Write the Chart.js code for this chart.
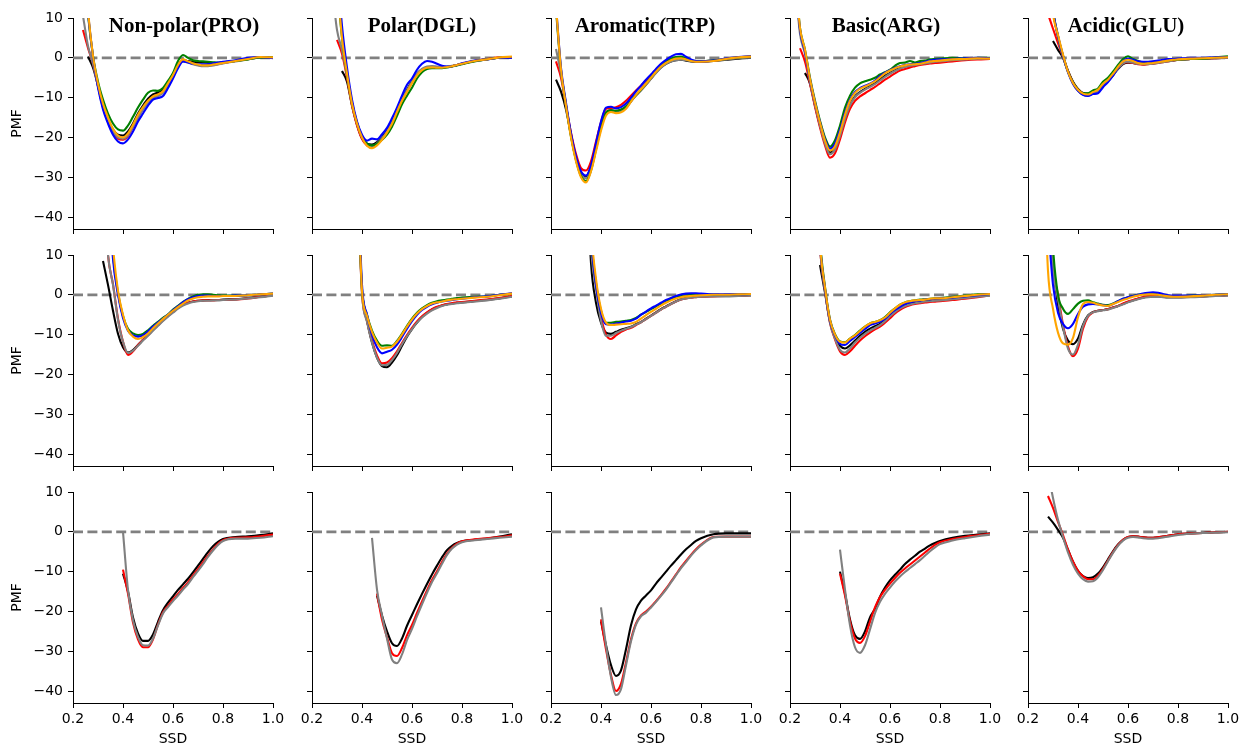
<!DOCTYPE html>
<html>
<head>
<meta charset="utf-8">
<script src="https://cdn.jsdelivr.net/npm/chart.js@4.4.0/dist/chart.umd.min.js"></script>
<style>
  html, body { margin: 0; padding: 0; background: #fff; overflow: hidden; }
  #fig { position: relative; width: 1242px; height: 746px; }
  .panel { position: absolute; }
  .title {
    position: absolute; top: 15px; transform: translateX(-50%);
    font-family: "Liberation Serif", serif; font-weight: bold;
    font-size: 21px; line-height: 21px; white-space: nowrap; color: #000;
  }
</style>
</head>
<body>
<div id="fig"></div>
<script>
// SSD grid shared by every curve
const ssd = [
  0.22, 0.24, 0.26, 0.28, 0.30, 0.32, 0.34, 0.36, 0.38, 0.40,
  0.42, 0.44, 0.46, 0.48, 0.50, 0.52, 0.54, 0.56, 0.58, 0.60,
  0.62, 0.64, 0.66, 0.68, 0.70, 0.72, 0.74, 0.76, 0.78, 0.80,
  0.85, 0.90, 0.95, 1.00
];
const xTicks = [0.2, 0.4, 0.6, 0.8, 1.0];
const yTicks = [-40, -30, -20, -10, 0, 10];
const residues = ["Non-polar(PRO)", "Polar(DGL)", "Aromatic(TRP)", "Basic(ARG)", "Acidic(GLU)"];

// PMF curves. runs in each panel: black, red, gray, green, blue, orange (bottom row: black, red, gray)
const topPRO = [
  [null, null, 0.3, -2.5, -7, -12, -15.5, -18, -19.3, -19.5,
   -18.5, -16.5, -14, -12, -10.3, -9.2, -8.7, -8, -6.2, -4.2,
   -1.8, -0.6, -0.8, -1.0, -1.1, -1.1, -1.2, -1.3, -1.3, -1.2,
   -0.8, -0.3, 0.1, 0.1],
  [null, 7, 2.5, -1.5, -7, -12.5, -16, -18.8, -20.3, -20.6,
   -19.6, -17.4, -15, -12.8, -11, -9.8, -9.3, -8.6, -6.6, -4.4,
   -1.9, -0.5, -1.0, -1.5, -1.8, -2.0, -2.0, -1.8, -1.6, -1.3,
   -0.8, -0.3, 0.2, 0.1],
  [null, 10.5, 3, -1.5, -7.2, -12.3, -15.8, -18.5, -20, -20.3,
   -19.4, -17.3, -15, -13, -11.3, -10.2, -9.6, -8.8, -6.8, -4.6,
   -2.1, -0.9, -1.2, -1.6, -1.9, -2.1, -2.1, -1.9, -1.7, -1.4,
   -0.9, -0.4, 0.1, 0.1],
  [null, 28, 11, 0.5, -6, -10.5, -14, -16.5, -18, -18.3,
   -17, -14.8, -12.5, -10.5, -8.8, -8.2, -8.3, -7.6, -5.8, -3.8,
   -0.8, 0.7, 0, -0.6, -0.8, -0.9, -1.0, -1.1, -1.2, -1.1,
   -0.8, -0.4, 0.1, 0.1],
  [null, 28, 11.5, 0.3, -7.5, -13, -16.5, -19.3, -21, -21.5,
   -20.5, -18.5, -16, -14, -12, -10.5, -10.1, -9.6, -7.6, -5.2,
   -2.6, -0.9, -1.2, -1.5, -1.6, -1.6, -1.6, -1.4, -1.2, -1.0,
   -0.6, 0, 0.2, -0.1],
  [null, 30, 12, 0.5, -6.5, -11.5, -15, -17.8, -19.5, -20,
   -19, -16.8, -14.3, -12.4, -10.8, -9.7, -9.2, -8.4, -6.4, -4.3,
   -1.8, -0.4, -0.9, -1.4, -1.7, -1.9, -1.9, -1.7, -1.5, -1.3,
   -0.8, -0.3, 0.2, 0.1]
];
const topDGL = [
  [null, null, null, null, null, -3.3, -6, -12, -16.8, -20.2,
   -21.6, -21.8, -21.2, -20, -18.3, -16, -13, -10.3, -8, -5.9,
   -4, -2.9, -2.4, -2.3, -2.4, -2.4, -2.3, -2.1, -1.8, -1.5,
   -0.8, -0.4, 0, 0.1],
  [null, null, null, null, 4.5, 1, -5, -12, -17, -20.4,
   -22, -22.4, -21.8, -20.5, -18.7, -16.4, -13.4, -10.6, -8.4, -6.2,
   -4.2, -3, -2.4, -2.3, -2.4, -2.4, -2.3, -2.1, -1.8, -1.5,
   -0.8, -0.3, 0.1, 0.1],
  [null, null, null, 18, 7, 2, -4.5, -11.5, -16.5, -20,
   -21.8, -22.2, -21.5, -20.2, -18.5, -16.2, -13.2, -10.4, -8.2, -6,
   -4, -2.8, -2.2, -2.1, -2.2, -2.3, -2.2, -2.0, -1.8, -1.5,
   -0.8, -0.4, 0, 0.1],
  [null, null, null, null, 19, 5, -4, -11.3, -16.3, -19.7,
   -21.5, -22, -21.6, -20.6, -19.3, -17.3, -14.6, -11.7, -9.5, -7.5,
   -5.2, -3.6, -2.8, -2.6, -2.6, -2.6, -2.4, -2.2, -1.9, -1.6,
   -0.9, -0.4, 0, 0.2],
  [null, null, null, null, 24, 8, -2.5, -10.5, -16, -19.3,
   -20.8, -20.3, -20.5, -19.2, -17.6, -15.2, -12.5, -9.5, -6.8, -5.2,
   -3, -1.5, -0.8, -1.0, -1.5, -2.0, -2.2, -2.1, -1.8, -1.4,
   -0.7, -0.4, 0, 0],
  [null, null, null, null, 20, 5, -4, -11.5, -16.5, -20,
   -22.1, -22.7, -22, -20.6, -18.8, -16.6, -13.6, -10.8, -8.6, -6.4,
   -4.4, -3.1, -2.5, -2.4, -2.5, -2.5, -2.3, -2.1, -1.8, -1.5,
   -0.8, -0.4, 0.1, 0.3]
];
const topTRP = [
  [-5.5, -8.5, -13, -19.3, -25, -28.8, -29.8, -27.3, -22.3, -17,
   -13.7, -13.2, -13.4, -13.2, -12.4, -10.9, -9.4, -8.1, -6.7, -5.2,
   -3.7, -2.4, -1.5, -0.9, -0.6, -0.5, -0.7, -0.9, -1.0, -1.0,
   -0.8, -0.5, -0.2, 0],
  [-0.9, -5, -12, -18.8, -24.2, -27.7, -28.3, -26, -21, -16.2,
   -12.8, -12.6, -12.4, -11.8, -10.8, -9.5, -8.2, -7, -5.7, -4.4,
   -3, -1.8, -0.9, -0.4, -0.1, 0, -0.3, -0.7, -0.9, -0.9,
   -0.7, -0.3, 0.1, 0.3],
  [2.2, -4, -12, -19.6, -25.5, -29.2, -30.3, -27.8, -22.8, -17.5,
   -14, -13.4, -13.6, -13.4, -12.6, -11, -9.5, -8.2, -6.8, -5.3,
   -3.8, -2.5, -1.5, -0.9, -0.6, -0.5, -0.6, -0.8, -0.9, -0.9,
   -0.7, -0.4, -0.1, 0.1],
  [12, -3, -11.8, -19.8, -25.7, -29.7, -31, -28.3, -23, -17.5,
   -13.8, -13.2, -13.3, -13, -12.2, -10.8, -9.3, -8, -6.5, -4.9,
   -3.3, -1.8, -0.8, -0.2, 0.2, 0.3, -0.2, -0.6, -0.8, -0.8,
   -0.6, -0.3, 0.1, 0.3],
  [13, -2.5, -11.3, -19, -24.8, -28.5, -29.6, -27, -21.5, -16,
   -12.5, -12.3, -12.7, -12.4, -11.5, -10, -8.4, -7, -5.5, -4.2,
   -2.8, -1.5, -0.5, 0.3, 0.9, 1.0, 0.3, -0.4, -0.8, -0.9,
   -0.7, -0.2, 0.2, 0.4],
  [13, -3, -12, -20, -26, -30, -31.3, -28.5, -23.5, -18.3,
   -14.5, -13.6, -13.9, -13.7, -12.8, -11, -9.3, -7.9, -6.5, -5,
   -3.5, -2.2, -1.3, -0.6, -0.2, -0.1, -0.4, -0.8, -1.0, -1.0,
   -0.8, -0.3, 0.1, 0.3]
];
const topARG = [
  [null, null, -3.8, -6.5, -12, -17, -21.3, -23.8, -22.6, -19.2,
   -15, -11.7, -9.7, -8.6, -7.8, -7.1, -6.3, -5.4, -4.5, -3.8,
   -3.1, -2.6, -2.2, -1.9, -1.7, -1.5, -1.3, -1.1, -0.9, -0.8,
   -0.5, -0.3, -0.2, -0.1],
  [null, 2.4, -1, -6.5, -12.3, -17.5, -22, -25.1, -24, -20.5,
   -16.2, -12.8, -10.8, -9.7, -8.9, -8.1, -7.3, -6.4, -5.5, -4.7,
   -3.9, -3.2, -2.8, -2.4, -2.1, -1.8, -1.6, -1.4, -1.3, -1.2,
   -0.9, -0.6, -0.4, -0.3],
  [20, 6, 1, -6, -11.8, -17, -21.5, -24.2, -23, -19.6,
   -15.3, -11.9, -9.9, -8.8, -8, -7.3, -6.6, -5.7, -4.8, -4,
   -3.3, -2.7, -2.3, -2, -1.8, -1.6, -1.4, -1.2, -1.0, -0.9,
   -0.6, -0.4, -0.2, -0.1],
  [22, 7.5, 2, -5, -10.8, -15.8, -20, -22.3, -20.7, -17,
   -12.5, -9.5, -7.5, -6.4, -5.9, -5.5, -5, -4.2, -3.6, -3,
   -2, -1.3, -1.2, -0.8, -1.2, -0.8, -0.7, -0.4, -0.3, -0.2,
   0, -0.1, 0, 0],
  [21, 7, 1.5, -5.5, -11.2, -16.2, -20.5, -22.8, -21.5, -18,
   -13.8, -10.5, -8.6, -7.6, -7, -6.5, -5.7, -4.6, -3.7, -3.1,
   -2.5, -2.1, -1.8, -1.6, -1.5, -1.3, -1.0, -0.7, -0.5, -0.4,
   -0.3, -0.1, 0, -0.1],
  [22, 7.5, 2, -5.3, -11.2, -16.3, -20.8, -23.3, -22.2, -18.7,
   -14.3, -10.8, -8.8, -7.8, -7.2, -6.6, -5.9, -4.9, -3.9, -3.2,
   -2.6, -2.2, -1.9, -1.7, -1.6, -1.5, -1.2, -0.9, -0.8, -0.7,
   -0.4, -0.3, -0.1, -0.2]
];
const topGLU = [
  [null, null, null, null, 4.2, 2, 0, -3.3, -6, -7.8,
   -8.8, -9, -8.6, -8.1, -6.8, -5.8, -4.4, -2.8, -1.6, -1.2,
   -1.3, -1.5, -1.6, -1.5, -1.4, -1.2, -1.0, -0.8, -0.7, -0.5,
   -0.3, -0.2, -0.1, 0],
  [null, null, null, 11, 7.3, 3.7, 0.3, -3.3, -6.2, -8,
   -9, -9.2, -8.6, -8.1, -6.6, -5.6, -4.2, -2.6, -1.4, -1.1,
   -1.3, -1.6, -1.7, -1.6, -1.5, -1.3, -1.1, -0.9, -0.7, -0.5,
   -0.3, -0.2, -0.1, 0],
  [null, null, null, 25, 12, 5, 0.3, -3.6, -6.5, -8.3,
   -9.3, -9.5, -9, -8.4, -6.9, -5.8, -4.4, -2.7, -1.4, -1.0,
   -1.2, -1.5, -1.6, -1.6, -1.5, -1.3, -1.1, -0.9, -0.7, -0.5,
   -0.3, -0.2, -0.1, 0],
  [null, null, null, 25, 12, 5.5, 0.6, -3.4, -6.2, -8,
   -8.9, -8.9, -8.2, -7.7, -6, -5, -3.5, -1.8, -0.3, 0.4,
   -0.3, -0.8, -1.1, -1.1, -1.0, -0.9, -0.8, -0.6, -0.5, -0.4,
   -0.3, -0.2, 0.1, 0.4],
  [null, null, null, 25, 12, 5.5, 0.5, -3.6, -6.5, -8.3,
   -9.3, -9.6, -9.1, -8.9, -7.4, -6.1, -4.5, -2.5, -0.8, -0.2,
   -0.5, -0.9, -1.0, -1.0, -0.9, -0.7, -0.5, -0.3, -0.3, -0.2,
   0, 0, 0.1, 0.1],
  [null, null, null, 24, 11, 5.7, 0.8, -3.5, -6.3, -8,
   -9, -9.2, -8.6, -8, -6.5, -5.5, -4, -2.3, -0.9, -0.5,
   -0.8, -1.3, -1.5, -1.4, -1.3, -1.1, -0.9, -0.7, -0.5, -0.4,
   -0.2, -0.1, 0, 0.1]
];

const midPRO = [
  [null, null, null, null, null, 8.5, 2.5, -4, -9.8, -13.2,
   -14.5, -13.9, -12.6, -11.3, -10.1, -8.8, -7.6, -6.4, -5.3, -4.3,
   -3.3, -2.5, -2.0, -1.7, -1.5, -1.4, -1.3, -1.3, -1.3, -1.2,
   -1.1, -0.8, -0.5, -0.1],
  [null, null, null, null, null, 30, 10, 2.7, -6, -11.8,
   -15.1, -14.2, -12.6, -11.3, -10.1, -8.8, -7.6, -6.4, -5.3, -4.3,
   -3.3, -2.5, -2.0, -1.7, -1.5, -1.4, -1.4, -1.4, -1.3, -1.3,
   -1.2, -0.9, -0.5, -0.1],
  [null, null, null, null, null, 30, 10, 2.5, -6.3, -11.8,
   -14.6, -14.0, -12.8, -11.5, -10.3, -9.0, -7.8, -6.6, -5.5, -4.5,
   -3.5, -2.7, -2.2, -1.8, -1.6, -1.5, -1.5, -1.4, -1.4, -1.3,
   -1.2, -0.9, -0.6, -0.2],
  [null, null, null, null, null, null, 30, 10, 0.5, -5.3,
   -8.5, -9.7, -10.1, -9.8, -8.9, -7.8, -6.8, -5.8, -4.9, -3.7,
   -2.8, -1.8, -1.0, -0.4, 0.0, 0.1, 0.1, 0.0, -0.1, -0.2,
   -0.2, -0.1, 0.1, 0.3],
  [null, null, null, null, null, null, 30, 9, 0, -5.8,
   -9, -10.2, -10.5, -10.2, -9.2, -8.0, -7.0, -6.0, -5.0, -3.9,
   -2.9, -1.9, -1.1, -0.6, -0.3, -0.2, -0.2, -0.3, -0.3, -0.3,
   -0.2, -0.1, 0.1, 0.3],
  [null, null, null, null, null, null, 30, 12, 1, -5,
   -8.9, -10.5, -11.1, -10.6, -9.7, -8.4, -7.2, -6.1, -5.0, -4.0,
   -3.1, -2.2, -1.4, -0.9, -0.6, -0.5, -0.4, -0.4, -0.4, -0.3,
   -0.3, -0.1, 0.1, 0.3]
];
const midDGL = [
  [null, null, null, null, null, null, null, null, null, 0,
   -6.5, -12, -15.8, -17.9, -18.2, -17.0, -15.2, -12.8, -10.5, -8.6,
   -7.0, -5.6, -4.5, -3.7, -3.1, -2.7, -2.4, -2.2, -2.0, -1.9,
   -1.6, -1.3, -0.9, -0.4],
  [null, null, null, null, null, null, null, null, 33, 0.5,
   -6.5, -11.5, -15.2, -17.2, -17, -15.9, -14.2, -12.1, -10.1, -8.3,
   -6.7, -5.4, -4.4, -3.6, -3.0, -2.6, -2.3, -2.1, -1.9, -1.8,
   -1.5, -1.2, -0.8, -0.3],
  [null, null, null, null, null, null, null, null, 32, 0.3,
   -6.8, -12, -15.8, -17.7, -17.6, -16.4, -14.6, -12.4, -10.4, -8.6,
   -7.0, -5.7, -4.7, -3.9, -3.3, -2.8, -2.5, -2.3, -2.1, -2.0,
   -1.7, -1.4, -1.0, -0.5],
  [null, null, null, null, null, null, null, null, 33, 1.5,
   -5, -9, -11.5, -12.8, -12.7, -12.8, -11.6, -9.8, -7.8, -6.0,
   -4.5, -3.4, -2.6, -2.0, -1.6, -1.4, -1.2, -1.0, -0.8, -0.7,
   -0.5, -0.4, 0, 0.3],
  [null, null, null, null, null, null, null, null, 38, 2.5,
   -5, -10, -13.2, -14.7, -14.3, -13.8, -12.5, -10.6, -8.5, -6.6,
   -5.0, -3.8, -3.0, -2.4, -2.0, -1.7, -1.5, -1.3, -1.1, -1.0,
   -0.6, -0.4, 0, 0.4],
  [null, null, null, null, null, null, null, null, 35, 1,
   -5.3, -9.3, -12, -13.5, -13.3, -13, -11.8, -10, -8, -6.2,
   -4.7, -3.6, -2.8, -2.2, -1.9, -1.7, -1.4, -1.2, -1.1, -1.0,
   -0.7, -0.5, -0.1, 0.3]
];
const midTRP = [
  [null, null, null, null, null, null, 35, 8, -2, -7,
   -9.5, -9.8, -9.3, -8.8, -8.4, -8, -7.4, -6.8, -6.0, -5.2,
   -4.4, -3.6, -2.9, -2.2, -1.6, -1.1, -0.8, -0.6, -0.5, -0.4,
   -0.3, -0.3, -0.2, -0.1],
  [null, null, null, null, null, null, 42, 13, 2.5, -5.5,
   -10, -11.1, -10.2, -9.3, -8.7, -8.3, -7.6, -6.9, -6.1, -5.3,
   -4.5, -3.7, -3.0, -2.3, -1.7, -1.2, -0.9, -0.7, -0.6, -0.5,
   -0.4, -0.3, -0.3, -0.1],
  [null, null, null, null, null, null, 40, 12, 1.5, -6.5,
   -10.3, -10.3, -9.6, -9.0, -8.5, -8.1, -7.5, -6.9, -6.1, -5.3,
   -4.5, -3.7, -3.0, -2.3, -1.7, -1.2, -0.9, -0.7, -0.6, -0.5,
   -0.4, -0.4, -0.3, -0.2],
  [null, null, null, null, null, null, 44, 15, 3, -4,
   -7, -7.0, -6.8, -6.7, -6.5, -6.3, -5.8, -5.0, -4.3, -3.6,
   -2.9, -2.2, -1.5, -1.0, -0.5, -0.2, 0, 0.1, 0.2, 0.1,
   0, 0, 0.1, 0.2],
  [null, null, null, null, null, null, 44, 15, 2.5, -4.5,
   -7.4, -7.5, -7.2, -7.0, -6.7, -6.5, -6.0, -5.0, -4.2, -3.4,
   -2.7, -2.0, -1.3, -0.8, -0.3, 0.1, 0.3, 0.4, 0.4, 0.3,
   0.1, 0.1, 0.1, 0.2],
  [null, null, null, null, null, null, 46, 17, 4, -3.5,
   -7, -7.6, -7.5, -7.4, -7.3, -7.2, -6.8, -6.0, -5.1, -4.3,
   -3.5, -2.7, -2.0, -1.4, -0.9, -0.6, -0.4, -0.3, -0.2, -0.1,
   0, 0, 0.1, 0.2]
];
const midARG = [
  [null, null, null, null, null, 7.5, 0.5, -6.8, -10.5, -12.8,
   -13.5, -12.7, -11.5, -10.3, -9.3, -8.5, -7.9, -7.3, -6.3, -5.1,
   -4.0, -3.2, -2.6, -2.2, -1.9, -1.7, -1.5, -1.4, -1.3, -1.2,
   -0.9, -0.7, -0.4, -0.1],
  [null, null, null, null, 40, 12, 1.2, -7, -11.2, -14.2,
   -15.1, -14.2, -12.8, -11.5, -10.4, -9.5, -8.7, -8.0, -7.0, -5.9,
   -4.7, -3.8, -3.1, -2.6, -2.3, -2.1, -1.9, -1.8, -1.7, -1.6,
   -1.3, -1.0, -0.6, -0.1],
  [null, null, null, null, 40, 12, 1, -7, -11, -13.8,
   -14.5, -13.4, -12.0, -10.8, -9.8, -9.0, -8.3, -7.6, -6.6, -5.4,
   -4.3, -3.4, -2.8, -2.4, -2.1, -1.9, -1.7, -1.6, -1.5, -1.4,
   -1.1, -0.8, -0.5, -0.2],
  [null, null, null, null, 42, 14, 2, -6.2, -9.9, -11.7,
   -11.9, -11, -10.1, -9.0, -8.0, -7.2, -6.8, -6.4, -5.6, -4.4,
   -3.4, -2.5, -1.9, -1.6, -1.4, -1.2, -1.1, -1.0, -0.9, -0.8,
   -0.5, -0.2, 0.1, 0.2],
  [null, null, null, null, 42, 13, 1.5, -6.5, -10.2, -12.3,
   -12.6, -11.6, -10.6, -9.6, -8.6, -7.6, -7.2, -6.8, -6.0, -4.8,
   -3.8, -3.0, -2.3, -1.9, -1.6, -1.4, -1.2, -1.1, -1.0, -0.9,
   -0.7, -0.4, -0.1, 0.2],
  [null, null, null, null, 42, 13, 1.8, -6.3, -10, -11.8,
   -12, -11, -10.2, -9.1, -8, -7.2, -6.8, -6.4, -5.7, -4.5,
   -3.4, -2.5, -1.9, -1.6, -1.4, -1.3, -1.2, -1.0, -0.9, -0.9,
   -0.6, -0.3, 0, 0.2]
];
const midGLU = [
  [null, null, null, 30, 8, -2.5, -8.5, -11.5, -12.4, -11,
   -7.5, -5.2, -4.3, -4.0, -3.8, -3.6, -3.2, -2.8, -2.3, -1.8,
   -1.4, -1.0, -0.7, -0.5, -0.4, -0.4, -0.5, -0.6, -0.6, -0.6,
   -0.5, -0.4, -0.2, -0.1],
  [null, null, null, 35, 8, 0, -7.5, -13, -15.4, -13.5,
   -8.5, -5.5, -4.4, -4.0, -3.8, -3.6, -3.2, -2.8, -2.2, -1.7,
   -1.3, -0.9, -0.6, -0.4, -0.3, -0.3, -0.4, -0.5, -0.5, -0.5,
   -0.5, -0.4, -0.2, -0.1],
  [null, null, null, 33, 7, -1, -8, -13.5, -15, -12.5,
   -7.8, -5.3, -4.4, -4.1, -3.9, -3.7, -3.3, -2.9, -2.4, -1.9,
   -1.5, -1.1, -0.8, -0.6, -0.5, -0.5, -0.6, -0.7, -0.7, -0.7,
   -0.6, -0.5, -0.3, -0.2],
  [null, null, null, 40, 12, 0, -3.5, -4.8, -3.6, -2.2,
   -1.5, -1.4, -1.9, -2.2, -2.5, -2.6, -2.2, -1.6, -1.0, -0.6,
   -0.3, 0, 0.2, 0.3, 0.3, 0.1, -0.1, -0.2, -0.3, -0.3,
   -0.2, -0.1, 0, 0.1],
  [null, null, null, 18, 2.5, -4.5, -7.3, -8.4, -7.3, -4.8,
   -3.0, -2.4, -2.3, -2.4, -2.6, -2.8, -2.3, -1.6, -1.0, -0.6,
   -0.3, 0, 0.3, 0.5, 0.6, 0.5, 0.2, -0.1, -0.2, -0.2,
   -0.2, -0.1, 0, 0.1],
  [null, null, 40, 6, -3.5, -9.5, -12.2, -12.5, -10.8, -5.6,
   -2.3, -1.8, -2.0, -2.4, -2.7, -2.8, -2.3, -1.8, -1.3, -0.9,
   -0.5, -0.2, 0, 0.1, 0.1, 0, -0.2, -0.4, -0.5, -0.5,
   -0.4, -0.2, 0, 0.1]
];

const botPRO = [
  [null, null, null, null, null, null, null, null, null, -10.5,
   -15, -21.5, -25.5, -27.4, -27.4, -25.8, -22.6, -19.7, -17.8, -16.2,
   -14.6, -13.2, -11.8, -10.2, -8.5, -6.8, -5.1, -3.6, -2.5, -1.8,
   -1.3, -1.1, -0.8, -0.4],
  [null, null, null, null, null, null, null, null, null, -9.5,
   -15.5, -22.8, -27, -29, -29, -27, -23.3, -20.2, -18.6, -17,
   -15.6, -14.1, -12.7, -11, -9.4, -7.7, -6, -4.4, -3, -2.1,
   -1.5, -1.4, -1.1, -0.7],
  [null, null, null, null, null, null, null, null, null, 0,
   -14.6, -22.2, -26.4, -28.5, -28.6, -26.8, -23.5, -20.5, -18.9, -17.4,
   -16, -14.5, -13.1, -11.4, -9.8, -8.1, -6.3, -4.7, -3.3, -2.3,
   -1.7, -1.7, -1.5, -1.1]
];
const botDGL = [
  [null, null, null, null, null, null, null, null, null, null,
   null, null, -16, -21, -25, -28, -28.7, -26.8, -23.6, -20.9,
   -18.2, -15.6, -13.1, -10.7, -8.5, -6.4, -4.6, -3.5, -2.8, -2.4,
   -2.0, -1.7, -1.2, -0.6],
  [null, null, null, null, null, null, null, null, null, null,
   null, null, -15.5, -22, -26.5, -30.5, -31.2, -29.2, -26, -23.4,
   -20.4, -17.5, -14.7, -12.1, -9.9, -7.6, -5.5, -4, -3.0, -2.4,
   -1.9, -1.6, -1.3, -0.9],
  [null, null, null, null, null, null, null, null, null, null,
   null, -1.5, -14.5, -21, -26.8, -32.1, -33, -30.8, -27.2, -24.4,
   -21.2, -18.2, -15.3, -12.6, -10.4, -8, -5.8, -4.2, -3.2, -2.6,
   -2.1, -1.8, -1.5, -1.2]
];
const botTRP = [
  [null, null, null, null, null, null, null, null, null, -22.5,
   -28.5, -33.5, -36.2, -34.8, -29.5, -23.5, -19.5, -17.3, -16, -14.7,
   -13, -11.5, -10, -8.5, -7.1, -5.7, -4.4, -3.3, -2.3, -1.6,
   -0.6, -0.4, -0.4, -0.4],
  [null, null, null, null, null, null, null, null, null, -22,
   -29.5, -36, -40, -38.2, -32.8, -27, -23, -21, -20, -18.8,
   -17.4, -15.9, -14.3, -12.5, -10.7, -8.9, -7.3, -5.8, -4.4, -3.2,
   -1.3, -1.2, -1.2, -1.2],
  [null, null, null, null, null, null, null, null, null, -19,
   -28.5, -36.5, -41, -39.5, -33.5, -27.5, -23.3, -21.2, -20.3, -19,
   -17.6, -16.1, -14.5, -12.7, -10.9, -9.1, -7.6, -6, -4.6, -3.4,
   -1.4, -1.2, -1.2, -1.2]
];
const botARG = [
  [null, null, null, null, null, null, null, null, null, -10,
   -15.5, -22, -26, -26.9, -25, -21.5, -19.3, -16.3, -14, -12.2,
   -10.8, -9.5, -8.1, -7, -6, -5, -4.2, -3.4, -2.8, -2.3,
   -1.5, -1.0, -0.7, -0.4],
  [null, null, null, null, null, null, null, null, null, -10.5,
   -16, -22.5, -26.8, -27.9, -26.2, -22.6, -19, -16.4, -14.6, -13,
   -11.6, -10.3, -9.2, -8.2, -7.2, -6.2, -5.2, -4.2, -3.3, -2.6,
   -1.8, -1.3, -0.9, -0.5],
  [null, null, null, null, null, null, null, null, null, -4.5,
   -14.5, -23.5, -29, -30.4, -28.5, -24.5, -20.4, -17.6, -15.6, -14,
   -12.5, -11.2, -10.1, -9.1, -8.1, -7.1, -6, -4.9, -3.9, -3.1,
   -2.2, -1.6, -1.1, -0.7]
];
const botGLU = [
  [null, null, null, 3.8, 2.3, 0.5, -1.5, -4.5, -7.5, -9.8,
   -11.1, -11.6, -11.4, -10.5, -8.9, -6.9, -4.9, -3.2, -2, -1.3,
   -1.1, -1.2, -1.4, -1.5, -1.5, -1.4, -1.2, -1.0, -0.8, -0.6,
   -0.4, -0.3, -0.1, 0],
  [null, null, null, 9, 6, 2.5, -0.8, -4.5, -7.5, -9.8,
   -11.2, -11.9, -11.9, -11, -9.3, -7.2, -5.1, -3.3, -2, -1.3,
   -1.1, -1.2, -1.4, -1.5, -1.5, -1.4, -1.2, -1.0, -0.8, -0.6,
   -0.4, -0.3, -0.1, 0],
  [null, null, null, 15, 8.5, 3, -1.3, -5.2, -8.3, -10.5,
   -11.9, -12.5, -12.4, -11.4, -9.6, -7.4, -5.3, -3.5, -2.2, -1.5,
   -1.3, -1.4, -1.6, -1.7, -1.7, -1.6, -1.4, -1.2, -1.0, -0.8,
   -0.5, -0.3, -0.2, -0.1]
];

const grid = [
  [topPRO, topDGL, topTRP, topARG, topGLU],
  [midPRO, midDGL, midTRP, midARG, midGLU],
  [botPRO, botDGL, botTRP, botARG, botGLU]
];

// ---- styling / layout ----
const lineColors = ["#000000", "#ff0000", "#808080", "#008000", "#0000ff", "#ffa500"];
const drawOrder = [6, 5, 4, 3, 2, 1]; // lower = drawn later (on top)
const colLeft = [73, 312, 551, 790, 1028];
const rowTop = [18, 255, 492];
const titleCenter = [184, 422, 645, 886, 1126];
const plotW = 200, plotH = 211;
const padL = 70, padT = 10, padR = 12;
const tickFont = { family: "DejaVu Sans", size: 14 };

const fig = document.getElementById("fig");

function minusFmt(v) {
  return v < 0 ? "\u2212" + Math.abs(v) : String(v);
}

function makePanel(r, c, runs) {
  const bottomH = r === 2 ? 45 : 8;
  const w = padL + plotW + padR;
  const h = padT + plotH + bottomH;
  const box = document.createElement("div");
  box.className = "panel";
  box.style.left = (colLeft[c] - padL) + "px";
  box.style.top = (rowTop[r] - padT) + "px";
  box.style.width = w + "px";
  box.style.height = h + "px";
  const canvas = document.createElement("canvas");
  canvas.width = w;
  canvas.height = h;
  box.appendChild(canvas);
  fig.appendChild(box);

  const datasets = runs.map((ys, i) => ({
    data: ssd.map((x, k) => ({ x: x, y: ys[k] })).filter(p => p.y != null),
    borderColor: lineColors[i],
    borderWidth: 2.1,
    order: drawOrder[i],
    clip: 0
  }));
  // zero reference line
  datasets.push({
    data: [{ x: xTicks[0], y: 0 }, { x: xTicks[xTicks.length - 1], y: 0 }],
    borderColor: "#808080",
    borderWidth: 2.8,
    borderDash: [10, 4.4],
    order: 10,
    clip: 0
  });

  new Chart(canvas, {
    type: "line",
    data: { datasets },
    options: {
      responsive: false,
      animation: false,
      layout: { padding: { top: padT, right: padR, left: 0, bottom: 0 } },
      elements: {
        point: { radius: 0 },
        line: { cubicInterpolationMode: "monotone" }
      },
      plugins: { legend: { display: false }, tooltip: { enabled: false } },
      scales: {
        x: {
          type: "linear",
          min: 0.2,
          max: 1.0,
          afterBuildTicks: s => { s.ticks = xTicks.map(v => ({ value: v })); },
          afterFit: s => { s.height = bottomH; s.paddingLeft = 0; s.paddingRight = 0; },
          ticks: {
            display: r === 2,
            autoSkip: false,
            maxRotation: 0,
            padding: 3,
            color: "#000",
            font: tickFont,
            callback: v => Number(v).toFixed(1)
          },
          grid: { drawOnChartArea: false, drawTicks: true, tickLength: 5, tickColor: "#000", tickWidth: 1 },
          border: { display: true, color: "#000", width: 1 },
          title: { display: r === 2, text: "SSD", color: "#000", font: tickFont, padding: { top: 0, bottom: 0 } }
        },
        y: {
          min: -43,
          max: 10,
          afterBuildTicks: s => { s.ticks = yTicks.map(v => ({ value: v })); },
          afterFit: s => { s.width = padL; s.paddingTop = 0; s.paddingBottom = 0; },
          ticks: {
            display: c === 0,
            padding: 5,
            color: "#000",
            font: tickFont,
            callback: v => minusFmt(v)
          },
          grid: { drawOnChartArea: false, drawTicks: true, tickLength: 5, tickColor: "#000", tickWidth: 1 },
          border: { display: true, color: "#000", width: 1 },
          title: { display: c === 0, text: "PMF", color: "#000", font: tickFont, padding: { top: 6, bottom: 0 } }
        }
      }
    }
  });
}

for (let r = 0; r < 3; r++) {
  for (let c = 0; c < 5; c++) {
    makePanel(r, c, grid[r][c]);
  }
}

residues.forEach((name, c) => {
  const t = document.createElement("div");
  t.className = "title";
  t.style.left = titleCenter[c] + "px";
  t.textContent = name;
  fig.appendChild(t);
});
</script>
</body>
</html>
